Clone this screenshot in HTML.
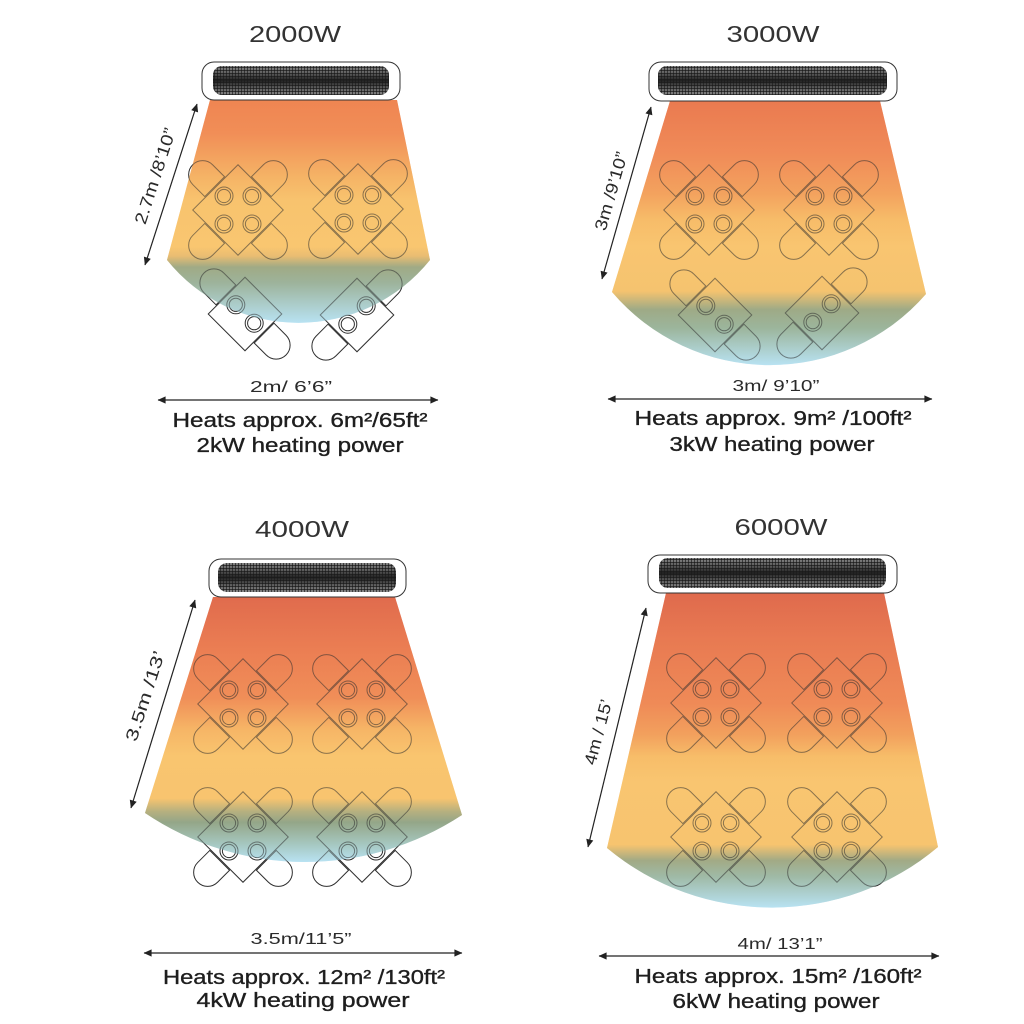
<!DOCTYPE html>
<html>
<head>
<meta charset="utf-8">
<style>
  html,body{margin:0;padding:0;background:#fff;}
  svg{display:block;}
  text{font-family:"Liberation Sans", sans-serif;fill:#1e1e1e;}
  .title{font-size:23px;fill:#333;}
  .dim{font-size:16px;fill:#2a2a2a;}
  .big{font-size:20px;stroke:#1e1e1e;stroke-width:0.35px;}
  .side{font-size:17px;fill:#2a2a2a;}
</style>
</head>
<body>
<svg width="1024" height="1024" viewBox="0 0 1024 1024" xmlns="http://www.w3.org/2000/svg">
<defs>
  <pattern id="dots" width="3" height="3" patternUnits="userSpaceOnUse">
    <rect width="3" height="3" fill="#eee"/>
    <circle cx="1.5" cy="1.5" r="1.4" fill="#222"/>
  </pattern>
  <linearGradient id="band" x1="0" y1="0" x2="0" y2="1">
    <stop offset="0" stop-color="#1a1a1a" stop-opacity="0.1"/>
    <stop offset="0.25" stop-color="#1a1a1a" stop-opacity="0.45"/>
    <stop offset="0.5" stop-color="#1a1a1a" stop-opacity="0.95"/>
    <stop offset="0.75" stop-color="#1a1a1a" stop-opacity="0.45"/>
    <stop offset="1" stop-color="#1a1a1a" stop-opacity="0.1"/>
  </linearGradient>

  <linearGradient id="gr1" x1="0" y1="0" x2="0" y2="1">
    <stop offset="0" stop-color="#ef8552"/>
    <stop offset="0.15" stop-color="#f18e57"/>
    <stop offset="0.35" stop-color="#f5b466"/>
    <stop offset="0.45" stop-color="#f8c36e"/>
    <stop offset="0.66" stop-color="#f9c670"/>
    <stop offset="0.70" stop-color="#e9bd72"/>
    <stop offset="0.75" stop-color="#a0aa85"/>
    <stop offset="0.82" stop-color="#9db39b"/>
    <stop offset="1" stop-color="#b8e2f2"/>
  </linearGradient>
  <linearGradient id="gr2" x1="0" y1="0" x2="0" y2="1">
    <stop offset="0" stop-color="#ea7a50"/>
    <stop offset="0.2" stop-color="#f08b58"/>
    <stop offset="0.35" stop-color="#f3a25e"/>
    <stop offset="0.45" stop-color="#f7bc69"/>
    <stop offset="0.55" stop-color="#f9c570"/>
    <stop offset="0.72" stop-color="#f5c36f"/>
    <stop offset="0.79" stop-color="#9eaa86"/>
    <stop offset="0.86" stop-color="#9cb59c"/>
    <stop offset="1" stop-color="#b8e2f2"/>
  </linearGradient>
  <linearGradient id="gr3" x1="0" y1="0" x2="0" y2="1">
    <stop offset="0" stop-color="#e06b4d"/>
    <stop offset="0.2" stop-color="#eb7e53"/>
    <stop offset="0.38" stop-color="#f08e58"/>
    <stop offset="0.5" stop-color="#f6b566"/>
    <stop offset="0.6" stop-color="#f9c56f"/>
    <stop offset="0.76" stop-color="#f8c46f"/>
    <stop offset="0.81" stop-color="#b6b07f"/>
    <stop offset="0.85" stop-color="#94a688"/>
    <stop offset="0.93" stop-color="#a5c6be"/>
    <stop offset="1" stop-color="#b8e2f2"/>
  </linearGradient>
  <linearGradient id="gr4" x1="0" y1="0" x2="0" y2="1">
    <stop offset="0" stop-color="#df6a4d"/>
    <stop offset="0.15" stop-color="#e87a52"/>
    <stop offset="0.35" stop-color="#ef8a57"/>
    <stop offset="0.45" stop-color="#f2a05d"/>
    <stop offset="0.52" stop-color="#f7bd69"/>
    <stop offset="0.6" stop-color="#f9c570"/>
    <stop offset="0.8" stop-color="#f7c46f"/>
    <stop offset="0.85" stop-color="#a2aa85"/>
    <stop offset="0.9" stop-color="#9fb9a5"/>
    <stop offset="1" stop-color="#b8e2f2"/>
  </linearGradient>

  <path id="b1" d="M210,100 L397,100 L430,260 A169,169 0 0 1 167,260 Z" fill="url(#gr1)"/>
  <path id="b2" d="M670,101 L880,101 L926,294 A207,207 0 0 1 612,292 Z" fill="url(#gr2)"/>
  <path id="b3" d="M213,597 L395,597 L462,815 A286,286 0 0 1 145,813 Z" fill="url(#gr3)"/>
  <path id="b4" d="M666,593 L884,593 L938,847 A258,258 0 0 1 607,848 Z" fill="url(#gr4)"/>

  <path id="ch" d="M0,-14 L-17,-14 A14,14 0 0 0 -17,14 L0,14 Z"/>
  <g id="pl"><circle r="9"/><circle r="6.6"/></g>

  <g id="g4">
    <g transform="rotate(45)">
      <rect x="-32" y="-32" width="64" height="64"/>
      <use href="#ch" transform="translate(-33,0)"/>
      <use href="#ch" transform="rotate(90) translate(-33,0)"/>
      <use href="#ch" transform="rotate(180) translate(-33,0)"/>
      <use href="#ch" transform="rotate(270) translate(-33,0)"/>
    </g>
    <use href="#pl" x="-14" y="-14"/>
    <use href="#pl" x="14" y="-14"/>
    <use href="#pl" x="-14" y="14"/>
    <use href="#pl" x="14" y="14"/>
  </g>
  <g id="g2a">
    <g transform="rotate(45)">
      <rect x="-26" y="-26" width="52" height="52"/>
      <use href="#ch" transform="translate(-27,0)"/>
      <use href="#ch" transform="rotate(180) translate(-27,0)"/>
      <use href="#pl" x="-13" y="0"/>
      <use href="#pl" x="13" y="0"/>
    </g>
  </g>
  <g id="g2b">
    <g transform="rotate(45)">
      <rect x="-26" y="-26" width="52" height="52"/>
      <use href="#ch" transform="rotate(90) translate(-27,0)"/>
      <use href="#ch" transform="rotate(270) translate(-27,0)"/>
      <use href="#pl" x="0" y="-13"/>
      <use href="#pl" x="0" y="13"/>
    </g>
  </g>

  <marker id="ah" viewBox="0 0 10 10" refX="9.5" refY="5" markerWidth="9" markerHeight="8" markerUnits="userSpaceOnUse" orient="auto-start-reverse">
    <path d="M0,0.5 L10,5 L0,9.5 Z" fill="#222"/>
  </marker>
</defs>

<rect width="1024" height="1024" fill="#fff"/>

<!-- beams base -->
<use href="#b1"/><use href="#b2"/><use href="#b3"/><use href="#b4"/>

<!-- tables -->
<g fill="none" stroke="#2e2e2e" stroke-width="1">
  <use href="#g4" transform="translate(238,210)"/>
  <use href="#g4" transform="translate(358,209)"/>
  <use href="#g2a" transform="translate(245,314)"/>
  <use href="#g2b" transform="translate(357,315)"/>

  <use href="#g4" transform="translate(709,210)"/>
  <use href="#g4" transform="translate(829,210)"/>
  <use href="#g2a" transform="translate(715,315)"/>
  <use href="#g2b" transform="translate(822,313)"/>

  <use href="#g4" transform="translate(243,704)"/>
  <use href="#g4" transform="translate(362,704)"/>
  <use href="#g4" transform="translate(243,837)"/>
  <use href="#g4" transform="translate(362,837)"/>

  <use href="#g4" transform="translate(716,703)"/>
  <use href="#g4" transform="translate(837,703)"/>
  <use href="#g4" transform="translate(716,837)"/>
  <use href="#g4" transform="translate(837,837)"/>
</g>

<!-- beams overlay -->
<g opacity="0.45">
  <use href="#b1"/><use href="#b2"/><use href="#b3"/><use href="#b4"/>
</g>

<!-- heaters -->
<g stroke="#333" stroke-width="1">
  <rect x="202" y="62" width="198" height="38" rx="12" fill="#fff"/>
  <rect x="649" y="62" width="248" height="39" rx="12" fill="#fff"/>
  <rect x="209" y="559" width="197" height="38" rx="12" fill="#fff"/>
  <rect x="648" y="555" width="249" height="38" rx="12" fill="#fff"/>
</g>
<g>
  <rect x="213" y="66" width="176" height="29" rx="9" fill="url(#dots)"/>
  <rect x="213" y="66" width="176" height="29" rx="9" fill="url(#band)"/>
  <rect x="658" y="66" width="229" height="29" rx="9" fill="url(#dots)"/>
  <rect x="658" y="66" width="229" height="29" rx="9" fill="url(#band)"/>
  <rect x="218" y="563" width="178" height="29" rx="9" fill="url(#dots)"/>
  <rect x="218" y="563" width="178" height="29" rx="9" fill="url(#band)"/>
  <rect x="659" y="558" width="227" height="30" rx="9" fill="url(#dots)"/>
  <rect x="659" y="558" width="227" height="30" rx="9" fill="url(#band)"/>
</g>

<!-- titles -->
<text class="title" x="295" y="42" text-anchor="middle" textLength="92" lengthAdjust="spacingAndGlyphs">2000W</text>
<text class="title" x="773" y="42" text-anchor="middle" textLength="93" lengthAdjust="spacingAndGlyphs">3000W</text>
<text class="title" x="302" y="537" text-anchor="middle" textLength="94" lengthAdjust="spacingAndGlyphs">4000W</text>
<text class="title" x="781" y="535" text-anchor="middle" textLength="93" lengthAdjust="spacingAndGlyphs">6000W</text>

<!-- arrows -->
<g stroke="#222" stroke-width="1.2" marker-start="url(#ah)" marker-end="url(#ah)">
  <line x1="158" y1="400" x2="438" y2="400"/>
  <line x1="608" y1="399" x2="932" y2="399"/>
  <line x1="144" y1="953" x2="462" y2="953"/>
  <line x1="599" y1="956" x2="939" y2="956"/>
  <line x1="145" y1="265" x2="197" y2="104"/>
  <line x1="602" y1="279" x2="651" y2="107"/>
  <line x1="131" y1="808" x2="195" y2="600"/>
  <line x1="588" y1="847" x2="646" y2="608"/>
</g>

<!-- side labels -->
<text class="side" transform="translate(155,176) rotate(-72)" text-anchor="middle" dy="0.35em" textLength="100" lengthAdjust="spacingAndGlyphs">2.7m /8’10”</text>
<text class="side" transform="translate(611,191) rotate(-74)" text-anchor="middle" dy="0.35em" textLength="81" lengthAdjust="spacingAndGlyphs">3m /9’10”</text>
<text class="side" transform="translate(145,696) rotate(-72)" text-anchor="middle" dy="0.35em" textLength="94" lengthAdjust="spacingAndGlyphs">3.5m /13’</text>
<text class="side" transform="translate(598,732) rotate(-75)" text-anchor="middle" dy="0.35em" textLength="67" lengthAdjust="spacingAndGlyphs">4m / 15’</text>

<!-- dimension labels -->
<text class="dim" x="291" y="392" text-anchor="middle" textLength="82" lengthAdjust="spacingAndGlyphs">2m/ 6’6”</text>
<text class="dim" x="776" y="391" text-anchor="middle" textLength="87" lengthAdjust="spacingAndGlyphs">3m/ 9’10”</text>
<text class="dim" x="301" y="944" text-anchor="middle" textLength="101" lengthAdjust="spacingAndGlyphs">3.5m/11’5”</text>
<text class="dim" x="780" y="949" text-anchor="middle" textLength="85" lengthAdjust="spacingAndGlyphs">4m/ 13’1”</text>

<!-- heats text -->
<text class="big" x="300" y="427" text-anchor="middle" textLength="255" lengthAdjust="spacingAndGlyphs">Heats approx. 6m²/65ft²</text>
<text class="big" x="300" y="452" text-anchor="middle" textLength="207" lengthAdjust="spacingAndGlyphs">2kW heating power</text>

<text class="big" x="773" y="425" text-anchor="middle" textLength="277" lengthAdjust="spacingAndGlyphs">Heats approx. 9m² /100ft²</text>
<text class="big" x="772" y="451" text-anchor="middle" textLength="205" lengthAdjust="spacingAndGlyphs">3kW heating power</text>

<text class="big" x="304" y="984" text-anchor="middle" textLength="282" lengthAdjust="spacingAndGlyphs">Heats approx. 12m² /130ft²</text>
<text class="big" x="303" y="1007" text-anchor="middle" textLength="213" lengthAdjust="spacingAndGlyphs">4kW  heating power</text>

<text class="big" x="778" y="983" text-anchor="middle" textLength="287" lengthAdjust="spacingAndGlyphs">Heats approx. 15m²  /160ft²</text>
<text class="big" x="776" y="1008" text-anchor="middle" textLength="207" lengthAdjust="spacingAndGlyphs">6kW heating power</text>
</svg>
</body>
</html>
